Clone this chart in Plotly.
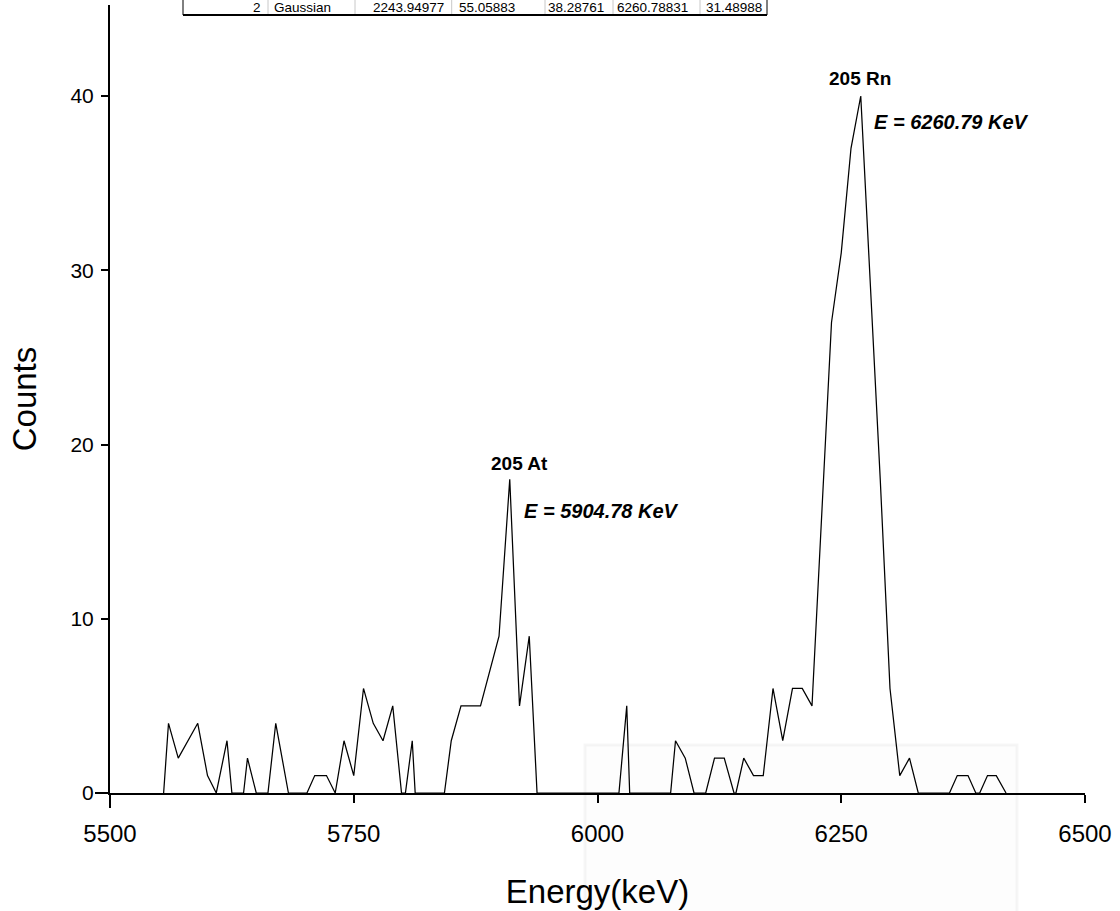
import plotly.graph_objects as go

# ---- data ----
energy = [5555, 5560, 5570, 5590, 5600, 5609, 5620, 5625, 5637, 5641, 5650, 5662, 5670, 5683,
          5702, 5710, 5722, 5731, 5740, 5750, 5760, 5770, 5780, 5790, 5799, 5803, 5810, 5813,
          5843, 5850, 5860, 5880, 5899, 5907, 5910, 5920, 5930, 5938, 6022, 6030, 6033,
          6075, 6080, 6090, 6099, 6111, 6120, 6130, 6140, 6142, 6150, 6160, 6170, 6180, 6190,
          6200, 6210, 6220, 6240, 6250, 6260, 6270, 6280, 6290, 6300, 6310, 6320, 6329,
          6361, 6369, 6380, 6388, 6392, 6400, 6409, 6419]
counts = [0, 4, 2, 4, 1, 0, 3, 0, 0, 2, 0, 0, 4, 0,
          0, 1, 1, 0, 3, 1, 6, 4, 3, 5, 0, 0, 3, 0,
          0, 3, 5, 5, 9, 16, 18, 5, 9, 0, 0, 5, 0,
          0, 3, 2, 0, 0, 2, 2, 0, 0, 2, 1, 1, 6, 3,
          6, 6, 5, 27, 31, 37, 40, 29, 18, 6, 1, 2, 0,
          0, 1, 1, 0, 0, 1, 1, 0]

x_ticks = [5500, 5750, 6000, 6250, 6500]
y_ticks = [0, 10, 20, 30, 40]

peak_labels = ["205 At", "205 Rn"]
peak_label_x = [5919.5, 6269.2]
peak_label_y = [18.9, 41.0]
energy_labels = ["E = 5904.78 KeV", "E = 6260.79 KeV"]
energy_label_x = [5922.6, 6281.5]
energy_label_y = [16.2, 38.5]

table_cells = ["2", "Gaussian", "2243.94977", "55.05883", "38.28761", "6260.78831", "31.48988"]

# ---- geometry (pixels) ----
W, H = 1120, 911
L, R, T, B = 110, 1085, 5, 793
FONT = "Arial, Liberation Sans, sans-serif"


def px(xp):
    return (xp - L) / (R - L)


def py(yp):
    return (B - yp) / (B - T)


fig = go.Figure()
fig.add_trace(go.Scatter(x=energy, y=counts, mode="lines",
                         line=dict(color="black", width=1.25), showlegend=False,
                         cliponaxis=False, hoverinfo="skip"))

shapes = []
# axis extensions (Origin style crossing axes)
shapes.append(dict(type="line", xref="paper", yref="paper", x0=px(95), x1=px(110), y0=0, y1=0,
                   line=dict(color="black", width=2)))
shapes.append(dict(type="line", xref="paper", yref="paper", x0=0, x1=0, y0=py(808), y1=0,
                   line=dict(color="black", width=2)))
# faint overlay box
shapes.append(dict(type="rect", xref="paper", yref="paper", x0=px(585), x1=px(1017),
                   y0=py(915), y1=py(745), line=dict(color="rgba(0,0,0,0.035)", width=3),
                   fillcolor="rgba(0,0,0,0.008)", layer="below"))

# table (cut-off row at the top)
tbl_left, tbl_right, tbl_bottom = 183, 767, 15
shapes.append(dict(type="rect", xref="paper", yref="paper", x0=px(tbl_left), x1=px(tbl_right),
                   y0=py(tbl_bottom), y1=py(-5), line=dict(color="black", width=1),
                   fillcolor="white"))
shapes.append(dict(type="line", xref="paper", yref="paper", x0=px(tbl_left), x1=px(tbl_right),
                   y0=py(tbl_bottom), y1=py(tbl_bottom), line=dict(color="black", width=2)))
for sx in [268, 355, 451.7, 545, 613, 700]:
    shapes.append(dict(type="line", xref="paper", yref="paper", x0=px(sx), x1=px(sx),
                       y0=py(tbl_bottom - 1), y1=py(-5), line=dict(color="#c8c8c8", width=1)))

annotations = []
cell_pos = [(263, "right"), (272, "left"), (446, "right"), (517, "right"), (606, "right"),
            (690, "right"), (764, "right")]
for txt, (cx, anc) in zip(table_cells, cell_pos):
    annotations.append(dict(text=txt, xref="paper", yref="paper", x=px(cx), y=py(7.5),
                            xanchor=anc, yanchor="middle", showarrow=False,
                            font=dict(family=FONT, size=13.5, color="black")))

for t, xx, yy in zip(peak_labels, peak_label_x, peak_label_y):
    annotations.append(dict(text="<b>" + t + "</b>", x=xx, y=yy, xref="x", yref="y",
                            xanchor="center", yanchor="middle", showarrow=False,
                            font=dict(family=FONT, size=19, color="black")))
for t, xx, yy in zip(energy_labels, energy_label_x, energy_label_y):
    annotations.append(dict(text="<b><i>" + t + "</i></b>", x=xx, y=yy, xref="x", yref="y",
                            xanchor="left", yanchor="middle", showarrow=False,
                            font=dict(family=FONT, size=20, color="black")))

fig.update_layout(
    width=W, height=H,
    margin=dict(l=L, r=W - R, t=T, b=H - B, pad=0),
    paper_bgcolor="white", plot_bgcolor="white",
    shapes=shapes, annotations=annotations,
    font=dict(family=FONT, color="black"),
    hovermode=False,
    xaxis=dict(range=[5500, 6500], tickvals=x_ticks, ticktext=[str(v) for v in x_ticks],
               showgrid=False, zeroline=False, showline=True, linecolor="black", linewidth=2,
               ticks="outside", ticklen=8, tickwidth=2, tickcolor="black",
               ticklabelstandoff=10,
               tickfont=dict(family=FONT, size=24, color="black"),
               title=dict(text="Energy(keV)", font=dict(family=FONT, size=33, color="black"),
                          standoff=34)),
    yaxis=dict(range=[0, (B - T) / 17.425], tickvals=y_ticks, ticktext=[str(v) for v in y_ticks],
               showgrid=False, zeroline=False, showline=True, linecolor="black", linewidth=2,
               ticks="outside", ticklen=7, tickwidth=2, tickcolor="black",
               ticklabelstandoff=3,
               tickfont=dict(family=FONT, size=21, color="black"),
               title=dict(text="Counts", font=dict(family=FONT, size=33, color="black"),
                          standoff=24)),
)

fig.write_html("out.html", config={"displayModeBar": False, "staticPlot": True},
               post_script="document.body.style.margin='0';document.body.style.overflow='hidden';")
